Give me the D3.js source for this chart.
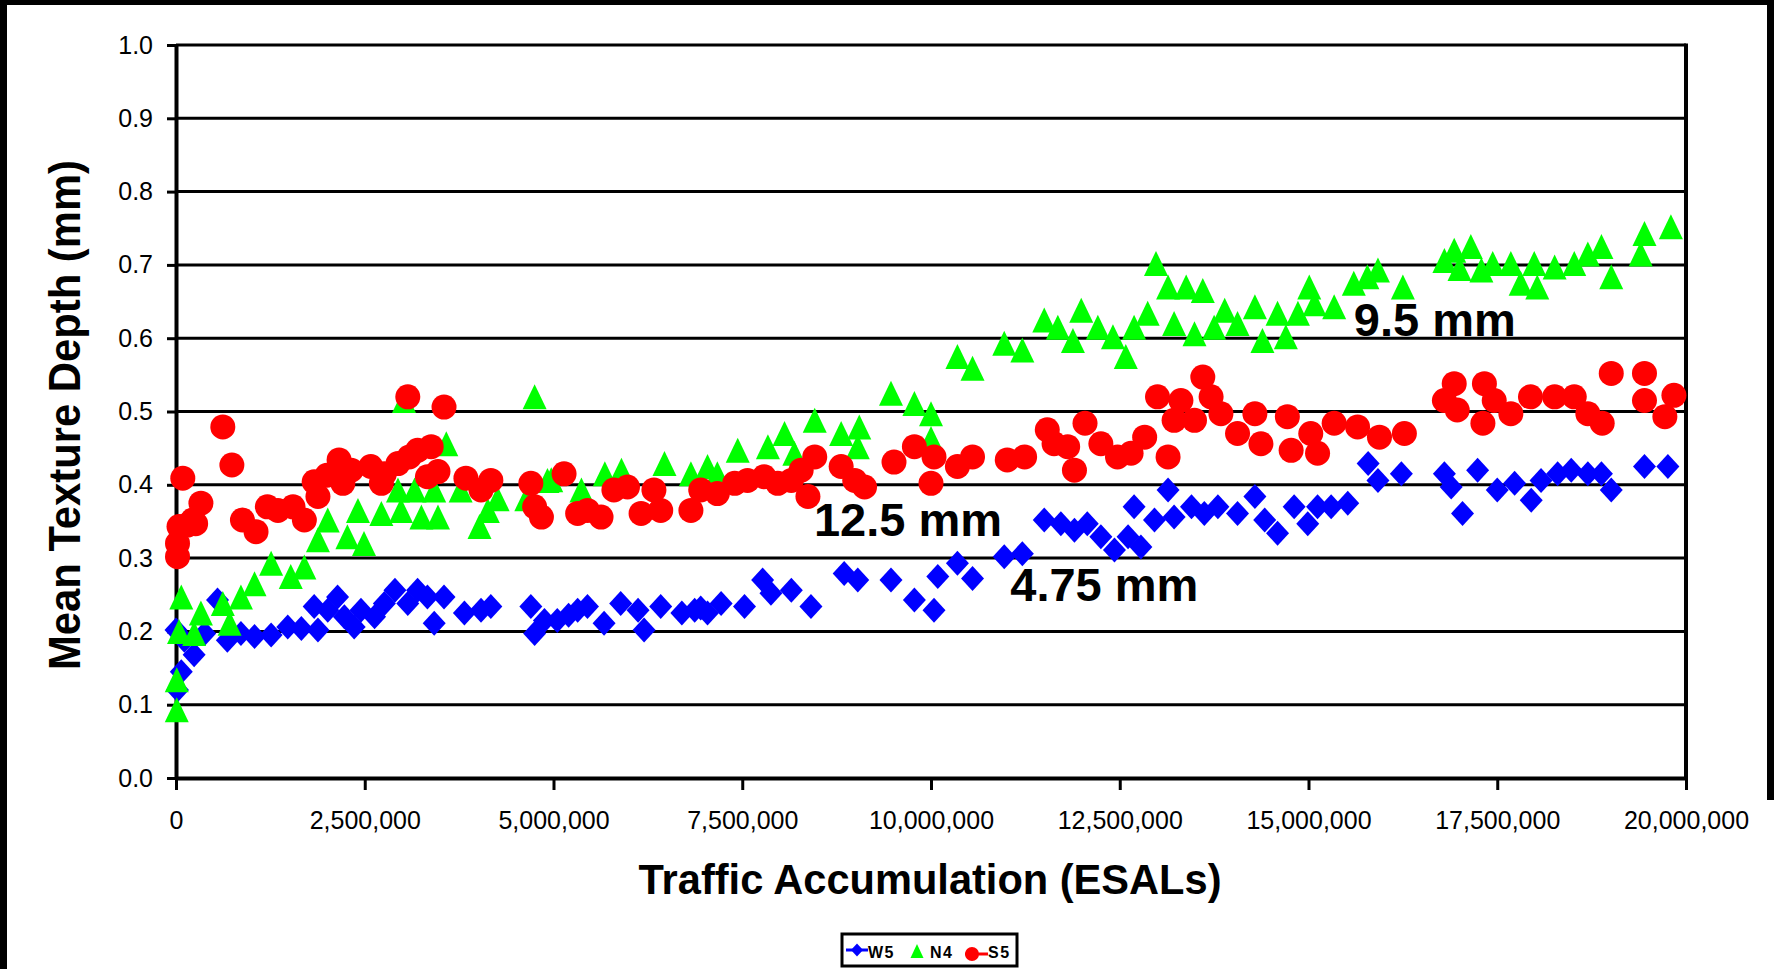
<!DOCTYPE html>
<html>
<head>
<meta charset="utf-8">
<script src="https://cdn.jsdelivr.net/npm/d3@7"></script>
<style>
  html, body { margin: 0; padding: 0; background: #fff; }
  svg { display: block; font-family: "Liberation Sans", Arial, sans-serif; }
</style>
</head>
<body>
<svg id="chart" width="1774" height="969"></svg>
<script>
// ---------------- DATA (ESALs in millions, mean texture depth in mm) ----------------
const series475 = [ // 4.75 mm (blue diamonds)
  [0,0.202],[0.11,0.188],[0.07,0.145],[0.02,0.12],[0.24,0.168],[0.38,0.197],[0.55,0.243],[0.68,0.188],
  [0.86,0.197],[1.04,0.193],[1.26,0.195],[1.48,0.206],[1.66,0.204],[1.88,0.202],[1.83,0.234],[2.01,0.229],
  [2.14,0.247],[2.23,0.22],[2.36,0.206],[2.45,0.229],[2.63,0.22],[2.76,0.238],[2.9,0.256],[3.07,0.238],
  [3.2,0.256],[3.33,0.247],[3.55,0.247],[3.42,0.211],[3.82,0.225],[4.04,0.229],[4.17,0.234],[4.7,0.234],
  [4.75,0.197],[4.88,0.215],
  [5.05,0.215],[5.2,0.222],[5.32,0.229],[5.45,0.234],[5.67,0.211],[5.89,0.238],[6.12,0.229],[6.2,0.202],
  [6.42,0.234],[6.7,0.225],[6.87,0.229],[6.95,0.232],[7.04,0.225],[7.22,0.238],[7.53,0.234],[7.77,0.27],
  [7.88,0.252],[8.15,0.256],[8.41,0.234],[8.85,0.279],[9.03,0.27],[9.47,0.27],[9.78,0.243],[10.04,0.229],
  [10.09,0.275],
  [10.35,0.293],[10.55,0.272],[10.97,0.302],[11.21,0.306],[11.5,0.352],[11.72,0.347],[11.9,0.338],
  [12.07,0.347],[12.25,0.329],[12.43,0.311],[12.61,0.329],[12.78,0.315],[12.69,0.37],[12.96,0.352],
  [13.14,0.393],[13.22,0.356],[13.45,0.37],[13.62,0.361],[13.8,0.37],[14.06,0.361],[14.29,0.384],
  [14.42,0.352],[14.59,0.334],[14.81,0.37],[14.99,0.347],[15.12,0.37],[15.3,0.37],[15.52,0.375],
  [15.79,0.429],[15.92,0.406],[16.23,0.415],[16.8,0.415],[16.89,0.397],[17.04,0.361],[17.24,0.42],
  [17.5,0.393],[17.73,0.402],[17.95,0.379],[18.08,0.406],[18.3,0.415],[18.48,0.42],[18.7,0.415],
  [18.88,0.415],[19.01,0.393],[19.45,0.425],[19.76,0.425]
];
const series95 = [ // 9.5 mm (green triangles)
  [0.01,0.093],[0.01,0.134],[0.04,0.2],[0.07,0.247],[0.24,0.197],[0.33,0.225],[0.62,0.238],[0.71,0.211],
  [0.86,0.247],[1.04,0.265],[1.26,0.293],[1.52,0.275],[1.7,0.288],[1.88,0.325],[2.01,0.352],[2.27,0.329],
  [2.49,0.32],[2.41,0.365],[2.72,0.361],[2.98,0.365],[3.25,0.356],[3.47,0.356],[3.02,0.515],[3.58,0.456],
  [2.94,0.393],[3.16,0.393],[3.42,0.393],[4.75,0.52],[4.02,0.343],[4.13,0.365],[4.26,0.381],[3.77,0.393],
  [4.64,0.381],[4.92,0.406],
  [4.97,0.407],[5.37,0.393],[5.68,0.415],[5.9,0.42],[6.47,0.429],[6.82,0.415],[7.04,0.425],[7.17,0.415],
  [7.44,0.447],[7.84,0.452],[8.06,0.47],[8.19,0.443],[8.46,0.488],[8.81,0.47],[9.05,0.479],[9.03,0.452],
  [9.47,0.525],[9.78,0.511],[10.0,0.497],[10.0,0.463],
  [10.35,0.575],[10.55,0.559],[10.97,0.593],[11.21,0.584],[11.5,0.625],[11.68,0.615],[11.88,0.597],
  [11.99,0.638],[12.21,0.615],[12.41,0.602],[12.58,0.575],[12.69,0.615],[12.87,0.634],[12.98,0.702],
  [13.14,0.67],[13.38,0.67],[13.6,0.665],[13.22,0.62],[13.49,0.606],[13.75,0.615],[13.89,0.638],
  [14.06,0.62],[14.29,0.643],[14.39,0.597],[14.59,0.634],[14.7,0.602],[14.86,0.634],
  [15.01,0.67],[15.08,0.647],[15.34,0.643],[15.6,0.675],[15.78,0.684],[15.92,0.693],[16.25,0.67],
  [16.8,0.706],[16.93,0.72],[17.15,0.725],[17.0,0.695],[17.29,0.693],[17.44,0.702],[17.68,0.702],
  [17.81,0.675],[17.99,0.702],[18.03,0.67],[18.26,0.697],[18.52,0.702],[18.7,0.715],[18.88,0.725],
  [19.01,0.684],[19.4,0.715],[19.45,0.743],[19.8,0.752]
];
const series125 = [ // 12.5 mm (red circles)
  [3.07,0.52],[3.55,0.506],[0.62,0.479],[0.74,0.427],[0.09,0.409],[0.33,0.375],[0.15,0.345],[0.02,0.32],
  [0.02,0.302],[0.04,0.343],[0.22,0.352],[0.26,0.347],[0.88,0.352],[1.06,0.336],[1.21,0.37],[1.35,0.365],
  [1.55,0.37],[1.7,0.352],[1.83,0.404],[1.88,0.384],[2.0,0.413],[2.16,0.434],[2.21,0.402],[2.32,0.42],
  [2.58,0.425],[2.72,0.402],[2.76,0.415],[2.94,0.429],[3.09,0.438],[3.2,0.447],[3.38,0.452],[3.33,0.411],
  [3.47,0.418],[3.84,0.409],[4.04,0.393],[4.17,0.406],
  [4.70,0.402],[4.75,0.37],[4.84,0.356],[5.14,0.415],[5.32,0.361],[5.45,0.365],[5.63,0.356],[5.8,0.393],
  [5.98,0.397],[6.16,0.361],[6.33,0.393],[6.42,0.365],[6.82,0.365],[6.95,0.393],[7.17,0.388],[7.4,0.402],
  [7.57,0.406],[7.79,0.411],[7.97,0.402],[8.15,0.406],[8.28,0.42],[8.46,0.438],[8.37,0.384],[8.81,0.425],
  [8.99,0.406],[9.12,0.397],[9.51,0.431],[9.78,0.452],[10.04,0.438],[10.0,0.402],
  [10.35,0.425],[10.55,0.438],[11.01,0.434],[11.24,0.438],[11.54,0.475],[11.63,0.456],[11.9,0.42],
  [11.81,0.452],[12.04,0.484],[12.25,0.456],[12.47,0.438],[12.65,0.443],[12.83,0.465],[13.0,0.52],
  [13.14,0.438],[13.31,0.515],[13.22,0.488],[13.49,0.488],[13.6,0.547],[13.71,0.52],[13.84,0.497],
  [14.06,0.47],[14.29,0.497],[14.37,0.456],[14.72,0.493],[14.77,0.447],[15.03,0.47],[15.12,0.443],
  [15.34,0.484],
  [15.65,0.479],[15.94,0.465],[16.27,0.47],[16.93,0.538],[17.33,0.538],[16.8,0.515],[16.97,0.502],
  [17.31,0.484],[17.46,0.515],[17.68,0.497],[17.94,0.52],[18.26,0.52],[18.52,0.52],[18.7,0.497],
  [18.89,0.484],[19.01,0.552],[19.45,0.552],[19.45,0.515],[19.72,0.493],[19.84,0.522]
];
const yTicks = [0,0.1,0.2,0.3,0.4,0.5,0.6,0.7,0.8,0.9,1.0];
const xTicks = [0,2500000,5000000,7500000,10000000,12500000,15000000,17500000,20000000];
const legendLabels = ["W5","N4","S5"];
const annotations = [
  {text:"9.5 mm", x:15.6, y:0.603},
  {text:"12.5 mm", x:8.45, y:0.33},
  {text:"4.75 mm", x:11.05, y:0.242}
];

(function () {
// ---------------- LAYOUT ----------------
const svg = d3.select("#chart");
const pLeft = 176, pRight = 1686, pTop = 45, pBottom = 778;
const x = d3.scaleLinear().domain([0, 20000000]).range([pLeft, pRight]);
const y = d3.scaleLinear().domain([0, 1]).range([pBottom, pTop]);
const xm = v => x(v * 1e6);

svg.append("rect").attr("width",1774).attr("height",969).attr("fill","#fff");

// gridlines
svg.append("g").selectAll("line").data(yTicks.filter(d => d > 0)).join("line")
  .attr("x1", pLeft).attr("x2", pRight)
  .attr("y1", d => y(d)).attr("y2", d => y(d))
  .attr("stroke", "#000").attr("stroke-width", 3);

// right border
svg.append("line").attr("x1", pRight).attr("x2", pRight).attr("y1", pTop - 1.5).attr("y2", pBottom)
  .attr("stroke", "#000").attr("stroke-width", 4);

// axes
const yAxis = d3.axisLeft(y).tickValues(yTicks).tickSize(9).tickSizeOuter(0).tickPadding(14)
  .tickFormat(d3.format(".1f"));
const gy = svg.append("g").attr("transform", `translate(${pLeft},0)`).call(yAxis);
gy.select(".domain").attr("stroke-width", 4);
gy.selectAll(".tick line").attr("stroke-width", 3);
gy.selectAll(".tick text").attr("font-size", 25).attr("fill", "#000")
  .attr("font-family", "Liberation Sans, Arial, sans-serif");

const xAxis = d3.axisBottom(x).tickValues(xTicks).tickSize(12).tickSizeOuter(0).tickPadding(21)
  .tickFormat(d3.format(","));
const gx = svg.append("g").attr("transform", `translate(0,${pBottom})`).call(xAxis);
gx.select(".domain").attr("stroke-width", 4);
gx.selectAll(".tick line").attr("stroke-width", 3);
gx.selectAll(".tick text").attr("font-size", 25).attr("fill", "#000")
  .attr("font-family", "Liberation Sans, Arial, sans-serif");

// markers
const diamond = (w, h) => `M0,${-h/2}L${w/2},0L0,${h/2}L${-w/2},0Z`;
const tri = (w, h) => `M0,${-h/2}L${w/2},${h/2}L${-w/2},${h/2}Z`;

svg.append("g").selectAll("path").data(series475).join("path")
  .attr("d", diamond(23, 25))
  .attr("transform", d => `translate(${xm(d[0])},${y(d[1])})`)
  .attr("fill", "#0000FF");

svg.append("g").selectAll("path").data(series95).join("path")
  .attr("d", tri(24, 25))
  .attr("transform", d => `translate(${xm(d[0])},${y(d[1])})`)
  .attr("fill", "#00FF00");

svg.append("g").selectAll("circle").data(series125).join("circle")
  .attr("cx", d => xm(d[0])).attr("cy", d => y(d[1])).attr("r", 12.5)
  .attr("fill", "#FF0000");

// annotations
svg.append("g").selectAll("text").data(annotations).join("text")
  .attr("x", d => xm(d.x)).attr("y", d => y(d.y))
  .attr("font-size", 47).attr("font-weight", "bold").attr("fill", "#000")
  .text(d => d.text);

// axis titles
svg.append("text").attr("x", 930).attr("y", 894).attr("text-anchor", "middle")
  .attr("font-size", 42).attr("font-weight", "bold")
  .attr("textLength", 583).attr("lengthAdjust", "spacingAndGlyphs")
  .text("Traffic Accumulation (ESALs)");

svg.append("text").attr("transform", "translate(80,415) rotate(-90)").attr("text-anchor", "middle")
  .attr("font-size", 44).attr("font-weight", "bold")
  .attr("textLength", 510).attr("lengthAdjust", "spacingAndGlyphs")
  .text("Mean Texture Depth (mm)");

// legend
const lg = svg.append("g");
lg.append("rect").attr("x", 842).attr("y", 934).attr("width", 175).attr("height", 32)
  .attr("fill", "#fff").attr("stroke", "#000").attr("stroke-width", 3);
lg.append("line").attr("x1", 846).attr("x2", 868).attr("y1", 950).attr("y2", 950)
  .attr("stroke", "#0000FF").attr("stroke-width", 3);
lg.append("path").attr("d", diamond(12, 13)).attr("transform", "translate(857,950)").attr("fill", "#0000FF");
lg.append("path").attr("d", tri(13, 14)).attr("transform", "translate(917,951)").attr("fill", "#00FF00");
lg.append("line").attr("x1", 965).attr("x2", 988).attr("y1", 954).attr("y2", 954)
  .attr("stroke", "#FF0000").attr("stroke-width", 3);
lg.append("circle").attr("cx", 972).attr("cy", 954).attr("r", 7).attr("fill", "#FF0000");
const lx = [868, 930, 988];
lg.selectAll("text.lab").data(legendLabels).join("text").attr("class", "lab")
  .attr("x", (d, i) => lx[i]).attr("y", 958)
  .attr("font-size", 16).attr("font-weight", "bold").attr("letter-spacing", 1.5).text(d => d);

// outer black frame
svg.append("rect").attr("x", 0).attr("y", 0).attr("width", 7).attr("height", 969).attr("fill", "#000");
svg.append("rect").attr("x", 0).attr("y", 0).attr("width", 1774).attr("height", 5).attr("fill", "#000");
svg.append("rect").attr("x", 1767).attr("y", 0).attr("width", 7).attr("height", 800).attr("fill", "#000");
})();
</script>
</body>
</html>
